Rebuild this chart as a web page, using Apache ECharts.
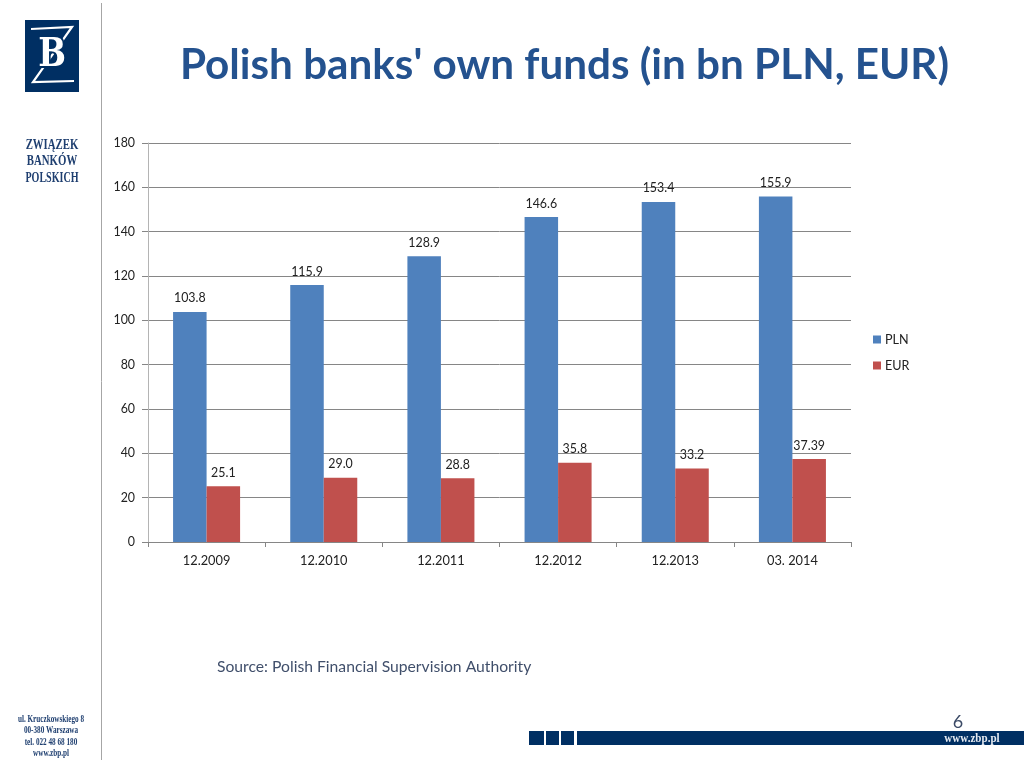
<!DOCTYPE html>
<html>
<head>
<meta charset="utf-8">
<style>html,body{margin:0;padding:0;background:#fff}#c{width:1024px;height:768px}</style>
<script src="https://cdn.jsdelivr.net/npm/echarts@6/dist/echarts.min.js"></script>
</head>
<body>
<div id="c"></div>
<script>
const categories = ['12.2009','12.2010','12.2011','12.2012','12.2013','03. 2014'];
const pln = [103.8,115.9,128.9,146.6,153.4,155.9];
const eur = [25.1,29.0,28.8,35.8,33.2,37.39];
const plnLabels = ['103.8','115.9','128.9','146.6','153.4','155.9'];
const eurLabels = ['25.1','29.0','28.8','35.8','33.2','37.39'];
const FONT = 'Lato, "Open Sans", sans-serif';
const NAVY = '#002f63';
const TEXT = '#222222';
const chart = echarts.init(document.getElementById('c'), null, {renderer:'canvas'});
const serifText = (x,y,text,size,fill,sx) => ({type:'text',x,y,scaleX:sx||1,style:{text,font:'bold '+size+'px "Liberation Serif", serif',fill,align:'center',verticalAlign:'middle'}});
chart.setOption({
  animation:false,
  backgroundColor:'#ffffff',
  title:{text:"Polish banks' own funds (in bn PLN, EUR)",left:175,top:39,
    textStyle:{fontFamily:FONT,fontWeight:'bold',fontSize:42.2,color:'#24528f'}},
  legend:{orient:'vertical',left:868,top:328,itemWidth:8,itemHeight:8,itemGap:13,icon:'rect',
    itemStyle:{borderWidth:0},
    textStyle:{fontFamily:FONT,fontSize:12.6,color:TEXT,padding:[0,0,0,-1]},
    data:['PLN','EUR']},
  grid:{left:148,right:173,top:143,bottom:226,containLabel:false},
  xAxis:{type:'category',data:categories,
    axisLine:{lineStyle:{color:'#868686',width:1}},
    axisTick:{show:true,alignWithLabel:false,length:5,lineStyle:{color:'#868686'}},
    axisLabel:{fontFamily:FONT,fontSize:12.8,color:TEXT,margin:12},
    splitLine:{show:false}},
  yAxis:{type:'value',min:0,max:180,interval:20,
    axisLine:{show:true,lineStyle:{color:'#b4b4b4',width:1}},
    axisTick:{show:true,length:6,lineStyle:{color:'#868686'}},
    axisLabel:{fontFamily:FONT,fontSize:12.4,color:TEXT,margin:13,padding:[2,0,0,0]},
    splitLine:{show:true,lineStyle:{color:'#868686',width:1}}},
  series:[
    {name:'PLN',type:'bar',data:pln,barWidth:'28.6%',barGap:'0%',
     itemStyle:{color:'#4f81bd'},
     label:{show:true,position:'top',distance:7.5,fontFamily:FONT,fontSize:12.4,color:TEXT,
       formatter:p=>plnLabels[p.dataIndex]}},
    {name:'EUR',type:'bar',data:eur,barWidth:'28.6%',barGap:'0%',
     itemStyle:{color:'#c0504d'},
     label:{show:true,position:'top',distance:7.5,fontFamily:FONT,fontSize:12.4,color:TEXT,
       formatter:p=>eurLabels[p.dataIndex]}}
  ],
  graphic:{elements:[
    {type:'line',shape:{x1:101.5,y1:3,x2:101.5,y2:760},style:{stroke:'#a6a6a6',lineWidth:1}},
    {type:'rect',shape:{x:25,y:20,width:54,height:72},style:{fill:NAVY}},
    {type:'polyline',shape:{points:[[31,29],[72,27],[33,82],[74,81]]},style:{stroke:'#ffffff',lineWidth:2.2,fill:null}},
    {type:'text',x:52,y:56,scaleX:0.82,style:{text:'B',font:'bold 40px "DejaVu Serif", serif',fill:'#ffffff',align:'center',verticalAlign:'middle',stroke:NAVY,lineWidth:4}},
    serifText(52,145,'ZWIĄZEK',14,'#1f3f70',0.77),
    serifText(52,161,'BANKÓW',14,'#1f3f70',0.77),
    serifText(52,178,'POLSKICH',14,'#1f3f70',0.72),
    serifText(51,719,'ul. Kruczkowskiego 8',10,'#1f3f70',0.72),
    serifText(51,730,'00-380 Warszawa',10,'#1f3f70',0.72),
    serifText(51,742,'tel. 022 48 68 180',10,'#1f3f70',0.72),
    serifText(51,753,'www.zbp.pl',10,'#1f3f70',0.72),
    {type:'text',x:217,y:667,style:{text:'Source: Polish Financial Supervision Authority',font:'15.7px '+FONT,fill:'#404f6b',verticalAlign:'middle'}},
    {type:'text',x:958,y:722,style:{text:'6',font:'18px '+FONT,fill:'#3b4a66',align:'center',verticalAlign:'middle'}},
    {type:'rect',shape:{x:529,y:731,width:15,height:14},style:{fill:NAVY}},
    {type:'rect',shape:{x:546,y:731,width:13,height:14},style:{fill:NAVY}},
    {type:'rect',shape:{x:561,y:731,width:13,height:14},style:{fill:NAVY}},
    {type:'rect',shape:{x:577,y:731,width:447,height:14},style:{fill:NAVY}},
    serifText(972,739,'www.zbp.pl',13,'#e6ebf2',0.85)
  ]}
});
</script>
</body>
</html>
